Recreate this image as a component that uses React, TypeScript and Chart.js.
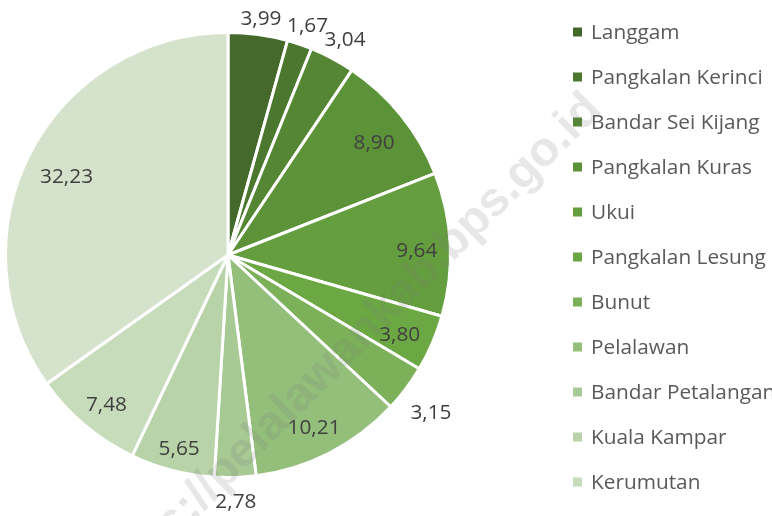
import React, { useEffect, useRef } from "react";
import { Chart, registerables } from "chart.js";

Chart.register(...registerables);

const categories = [
  "Langgam",
  "Pangkalan Kerinci",
  "Bandar Sei Kijang",
  "Pangkalan Kuras",
  "Ukui",
  "Pangkalan Lesung",
  "Bunut",
  "Pelalawan",
  "Bandar Petalangan",
  "Kuala Kampar",
  "Kerumutan",
  "Teluk Meranti",
];
const values = [3.99, 1.67, 3.04, 8.9, 9.64, 3.8, 3.15, 10.21, 2.78, 5.65, 7.48, 32.23];
const colors = [
  "#44692b",
  "#4b772f",
  "#548634",
  "#5c9339",
  "#649e3e",
  "#6ba843",
  "#7cb15a",
  "#93bf7b",
  "#a7ca94",
  "#b8d3a7",
  "#c7dcba",
  "#d6e3cc",
];
const watermarkText = "https://pelalawankab.bps.go.id";

const W = 772;
const H = 516;
const FONT = '"Open Sans", "Noto Sans", sans-serif';
const FS = 20.8;

const fmt = (v: number) => v.toFixed(2).replace(".", ",");

const labelsPlugin = {
  id: "sliceLabels",
  afterDatasetsDraw(chart: any) {
    const meta = chart.getDatasetMeta(0);
    const ctx = chart.ctx as CanvasRenderingContext2D;
    ctx.save();
    ctx.font = `${FS}px ${FONT}`;
    ctx.fillStyle = "#404040";
    ctx.textAlign = "center";
    ctx.textBaseline = "alphabetic";
    meta.data.forEach((arc: any, i: number) => {
      const { x, y, startAngle, endAngle, outerRadius } = arc.getProps(
        ["x", "y", "startAngle", "endAngle", "outerRadius"],
        true
      );
      const text = fmt(values[i]);
      const w = ctx.measureText(text).width;
      const h = FS;
      const mid = (startAngle + endAngle) / 2;
      const r = outerRadius - 1.5;
      const span = endAngle - startAngle;
      const radialHalf = (w * Math.abs(Math.cos(mid)) + h * Math.abs(Math.sin(mid))) / 2;
      const tangExtent = w * Math.abs(Math.sin(mid)) + h * Math.abs(Math.cos(mid));
      const inR = r - 11 - radialHalf;
      const inside = span > Math.PI / 2 || tangExtent + 10 <= r * 0.85 * span;
      const dist = inside ? inR : r + 10 + radialHalf;
      const lx = x + Math.cos(mid) * dist;
      const ly = y + Math.sin(mid) * dist;
      ctx.fillText(text, lx, ly + FS * 0.36 + 4);
    });
    ctx.restore();
  },
};

const legendPlugin = {
  id: "sideLegend",
  afterDraw(chart: any) {
    const ctx = chart.ctx as CanvasRenderingContext2D;
    ctx.save();
    ctx.font = `${FS}px ${FONT}`;
    ctx.textAlign = "left";
    ctx.textBaseline = "alphabetic";
    categories.forEach((name, i) => {
      const cy = 32 + 45 * i;
      ctx.fillStyle = colors[i];
      ctx.fillRect(573, cy - 4.5, 9, 9);
      ctx.fillStyle = "#595959";
      ctx.fillText(name, 591, cy + 7);
    });
    ctx.restore();
  },
};

const watermarkPlugin = {
  id: "watermark",
  afterDraw(chart: any) {
    const ctx = chart.ctx as CanvasRenderingContext2D;
    ctx.save();
    ctx.translate(594, 102);
    ctx.rotate((-45 * Math.PI) / 180);
    ctx.font = 'bold 48px "Liberation Sans", Arial, sans-serif';
    ctx.fillStyle = "rgba(120,120,120,0.18)";
    ctx.textAlign = "right";
    ctx.textBaseline = "middle";
    ctx.fillText(watermarkText, 0, 0);
    ctx.restore();
  },
};

export default function App() {
  const ref = useRef<HTMLCanvasElement>(null);
  useEffect(() => {
    let chart: Chart | null = null;
    let cancelled = false;
    const make = () => {
      if (cancelled || !ref.current) return;
      chart = new Chart(ref.current, {
        type: "pie",
        data: {
          labels: categories,
          datasets: [
            {
              data: values,
              backgroundColor: colors,
              borderColor: "#ffffff",
              borderWidth: 3,
            },
          ],
        },
        options: {
          responsive: false,
          devicePixelRatio: 1,
          animation: false,
          events: [],
          layout: { padding: { left: 4, top: 31, right: 320, bottom: 37 } },
          plugins: {
            legend: { display: false },
            tooltip: { enabled: false },
          },
        },
        plugins: [labelsPlugin, legendPlugin, watermarkPlugin],
      } as any);
    };
    const fontsReady: Promise<any> = (document as any).fonts
      ? Promise.all([
          (document as any).fonts.load(`${FS}px "Open Sans"`),
          (document as any).fonts.load('bold 48px "Liberation Sans"'),
        ]).catch(() => null)
      : Promise.resolve();
    fontsReady.then(make);
    return () => {
      cancelled = true;
      if (chart) chart.destroy();
    };
  }, []);
  return (
    <div style={{ position: "absolute", left: 0, top: 0, width: W, height: H, background: "#ffffff" }}>
      <canvas ref={ref} width={W} height={H} style={{ display: "block", width: W, height: H }} />
    </div>
  );
}
